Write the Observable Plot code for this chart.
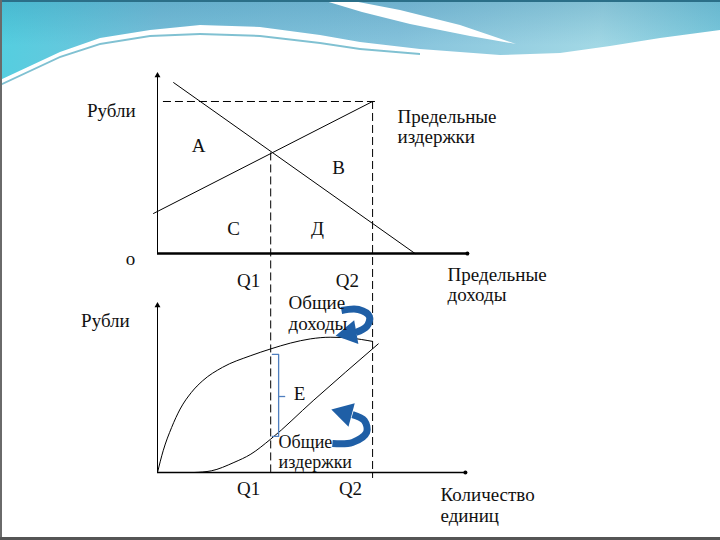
<!DOCTYPE html>
<html><head><meta charset="utf-8">
<script src="https://cdn.jsdelivr.net/npm/d3@7"></script>
<script src="https://cdn.jsdelivr.net/npm/@observablehq/plot@0.6"></script>
<style>
body{margin:0;background:#fff;}
#slide{position:relative;width:720px;height:540px;overflow:hidden;background:#fff;}
.hdr{position:absolute;left:0;top:0;width:720px;height:100px;
 background:linear-gradient(to bottom, rgba(40,120,160,0.25), rgba(40,120,160,0) 45%),
 linear-gradient(100deg,#52cfe0 0%,#78c0da 22%,#86c3dc 55%,#a2d8e5 82%,#77c8dc 100%);
 clip-path:polygon(0 0,720px 0,720px 30px,660px 38px,610px 46px,560px 53px,500px 55px,460px 52px,420px 49px,360px 42px,320px 35px,260px 27px,200px 25px,150px 30px,100px 38px,60px 52px,30px 66px,0 80px);}
.band{position:absolute;left:0;top:0;width:720px;height:100px;background:#4aa7bf;opacity:.7;
 clip-path:polygon(0 84px,30px 70px,60px 56px,100px 43px,150px 35px,200px 33px,260px 35px,320px 42px,360px 48px,420px 53px,420px 55px,360px 50px,320px 44px,260px 37px,200px 35px,150px 37px,100px 45px,60px 58px,30px 72px,0 86px);}
.sw{position:absolute;left:0;top:0;width:720px;height:100px;background:#fff;
 clip-path:polygon(322px 0,348px 0,400px 10px,460px 25px,516px 44px,470px 36px,410px 24px,362px 12px);}
.edge{position:absolute;left:0;top:0;width:720px;height:2px;background:#2b6f88;}
.ledge{position:absolute;left:0;top:0;width:2px;height:540px;background:#6a6a6a;}
.bedge{position:absolute;left:0;top:537px;width:720px;height:3px;background:#555;}
.layer{position:absolute;left:0;top:0;}
.layer svg, .layer svg text{font-family:"Liberation Serif","DejaVu Serif",serif !important;}
</style></head>
<body>
<div id="slide">
 <div class="hdr"></div><div class="band"></div><div class="sw"></div>
 <div class="edge"></div><div class="ledge"></div><div class="bedge"></div>
 <div id="top" class="layer"></div>
 <div id="bot" class="layer"></div>
</div>
<script>
// ---- quantities (abstract units) ----
const Q1 = 4.0, Q2 = 7.6;
// top panel: marginal cost / marginal revenue (рубли)
const mcQ = [-0.14, 7.6];
const mcP = [2.25, 8.54];
const mrQ = [0.57, 9.1];
const mrP = [9.6, 0];
const crossP = 5.65;      // MR = MC at Q1
const priceTop = 8.54;    // MC at Q2
const topFloor = -12.3;   // dashed guides reach the lower panel's baseline

// bottom panel: total revenue / total cost
const trQ = [0, 0.2, 0.5, 0.8, 1.2, 1.6, 2.3, 3.3, 4.0, 4.7, 5.4, 6.1, 6.8, 7.6];
const trR = [0, 1.3, 2.7, 3.8, 4.8, 5.5, 6.3, 7.0, 7.4, 7.75, 8.0, 8.1, 8.05, 7.85];
const tcQ = [1.3, 1.9, 2.7, 3.3, 4.0, 5.5, 7.8];
const tcR = [0, 0.1, 0.6, 1.1, 2.0, 4.3, 7.7];

// bracket E (between TR and TC at Q1)
const eTop = 7.07, eBottom = 2.16, eMid = 4.55;

// curved arrows
const arrowTRq = [6.5, 7.1, 7.49, 7.39, 7.0];
const arrowTRr = [9.7, 9.76, 9.34, 8.74, 8.38];
const arrowTCq = [6.18, 6.89, 7.39, 7.31, 6.89];
const arrowTCr = [1.74, 1.80, 2.40, 3.11, 3.47];

// labels
const topLabels = ["Рубли", "Предельные\nиздержки", "A", "B", "C", "Д", "o", "Q1", "Q2", "Предельные\nдоходы"];
const topLabelQ = [-1.63, 8.48, 1.45, 6.40, 2.69, 5.65, -0.95, 3.22, 6.71, 10.25];
const topLabelP = [8.03, 7.11, 6.07, 4.83, 1.40, 1.40, -0.28, -1.52, -1.52, -1.77];
const topAnchor = ["middle", "start", "middle", "middle", "middle", "middle", "middle", "middle", "middle", "start"];

const botLabels = ["Общие\nдоходы", "Рубли", "E", "Общие\nиздержки", "Q1", "Q2", "Количество\nединиц"];
const botLabelQ = [4.63, -1.84, 5.02, 4.28, 3.22, 6.82, 10.0];
const botLabelR = [9.55, 9.10, 4.73, 1.26, -0.96, -0.96, -1.92];
const botAnchor = ["start", "middle", "middle", "start", "middle", "middle", "start"];
const botSize = [19, 19, 19, 18, 19, 19, 19];

const zip = (a, b) => a.map((v, i) => ({q: v, v: b[i]}));
const font = "Liberation Serif";
const xScale = {domain: [0, 10], range: [157, 440], axis: null};
const dash = "8,4";

const topData = topLabels.map((t, i) => ({t, q: topLabelQ[i], v: topLabelP[i], a: topAnchor[i]}));
const topPlot = Plot.plot({
  width: 720, height: 540, margin: 0,
  x: xScale,
  y: {domain: [0, 10], range: [253, 75], axis: null},
  style: {background: "transparent", overflow: "visible"},
  marks: [
    Plot.ruleX([0], {y1: 0, y2: 10, stroke: "#000", strokeWidth: 1}),
    Plot.dot([{q: 0, v: 10}], {x: "q", y: "v", symbol: "triangle", r: 2.2, fill: "#000", stroke: null}),
    Plot.ruleY([0], {x1: 0, x2: 10.95, stroke: "#000", strokeWidth: 2.6}),
    Plot.dot([{q: 10.95, v: 0}], {x: "q", y: "v", r: 2, fill: "#000", stroke: null}),
    Plot.ruleY([priceTop], {x1: 0.21, x2: 7.78, stroke: "#000", strokeWidth: 1, strokeDasharray: dash}),
    Plot.ruleX([Q1], {y1: crossP, y2: topFloor, stroke: "#000", strokeWidth: 1, strokeDasharray: dash}),
    Plot.ruleX([Q2], {y1: priceTop, y2: topFloor - 0.34, stroke: "#000", strokeWidth: 1, strokeDasharray: dash}),
    Plot.line(zip(mrQ, mrP), {x: "q", y: "v", stroke: "#000", strokeWidth: 1}),
    Plot.line(zip(mcQ, mcP), {x: "q", y: "v", stroke: "#000", strokeWidth: 1}),
    Plot.text(topData.filter(d => d.a === "middle"),
      {x: "q", y: "v", text: "t", textAnchor: "middle", lineAnchor: "middle", fontSize: 19, fontFamily: font, fill: "#111"}),
    Plot.text(topData.filter(d => d.a === "start"),
      {x: "q", y: "v", text: "t", textAnchor: "start", lineAnchor: "middle", lineHeight: 1.05, fontSize: 19, fontFamily: font, fill: "#111"})
  ]
});
document.getElementById("top").append(topPlot);

const arrowColor = "#1f5fa6";
const bracketColor = "#4f7fbf";
const botData = botLabels.map((t, i) => ({t, q: botLabelQ[i], v: botLabelR[i], a: botAnchor[i], s: botSize[i]}));

const botPlot = Plot.plot({
  width: 720, height: 540, margin: 0,
  x: xScale,
  y: {domain: [0, 10], range: [472, 305], axis: null},
  style: {background: "transparent", overflow: "visible"},
  marks: [
    Plot.ruleX([0], {y1: 0, y2: 10, stroke: "#000", strokeWidth: 1}),
    Plot.dot([{q: 0, v: 10}], {x: "q", y: "v", symbol: "triangle", r: 2.2, fill: "#000", stroke: null}),
    Plot.ruleY([0], {x1: 0, x2: 10.88, stroke: "#000", strokeWidth: 1.6}),
    Plot.dot([{q: 10.88, v: 0}], {x: "q", y: "v", r: 2, fill: "#000", stroke: null}),
    Plot.line(zip(trQ, trR), {x: "q", y: "v", curve: "monotone-x", stroke: "#000", strokeWidth: 1}),
    Plot.line(zip(tcQ, tcR), {x: "q", y: "v", curve: "monotone-x", stroke: "#000", strokeWidth: 1}),
    // bracket E
    Plot.line([{q: 4.06, v: eTop}, {q: 4.28, v: eTop}, {q: 4.28, v: eBottom}, {q: 4.06, v: eBottom}],
      {x: "q", y: "v", stroke: bracketColor, strokeWidth: 1.3}),
    Plot.ruleY([eMid], {x1: 4.28, x2: 4.53, stroke: bracketColor, strokeWidth: 1.3}),
    // curved arrows
    Plot.line(zip(arrowTRq, arrowTRr), {x: "q", y: "v", curve: "catmull-rom", stroke: arrowColor, strokeWidth: 7, strokeLinecap: "butt"}),
    Plot.dot([{q: 6.78, v: 8.33}], {x: "q", y: "v", symbol: "triangle", r: 9, rotate: -100, fill: arrowColor, stroke: null}),
    Plot.line(zip(arrowTCq, arrowTCr), {x: "q", y: "v", curve: "catmull-rom", stroke: arrowColor, strokeWidth: 7, strokeLinecap: "butt"}),
    Plot.dot([{q: 6.62, v: 3.55}], {x: "q", y: "v", symbol: "triangle", r: 9, rotate: -75, fill: arrowColor, stroke: null}),
    Plot.text(botData.filter(d => d.a === "middle"),
      {x: "q", y: "v", text: "t", textAnchor: "middle", lineAnchor: "middle", fontSize: "s", fontFamily: font, fill: "#111"}),
    Plot.text(botData.filter(d => d.a === "start"),
      {x: "q", y: "v", text: "t", textAnchor: "start", lineAnchor: "middle", lineHeight: 1.1, fontSize: "s", fontFamily: font, fill: "#111"})
  ]
});
document.getElementById("bot").append(botPlot);
</script>
</body></html>
